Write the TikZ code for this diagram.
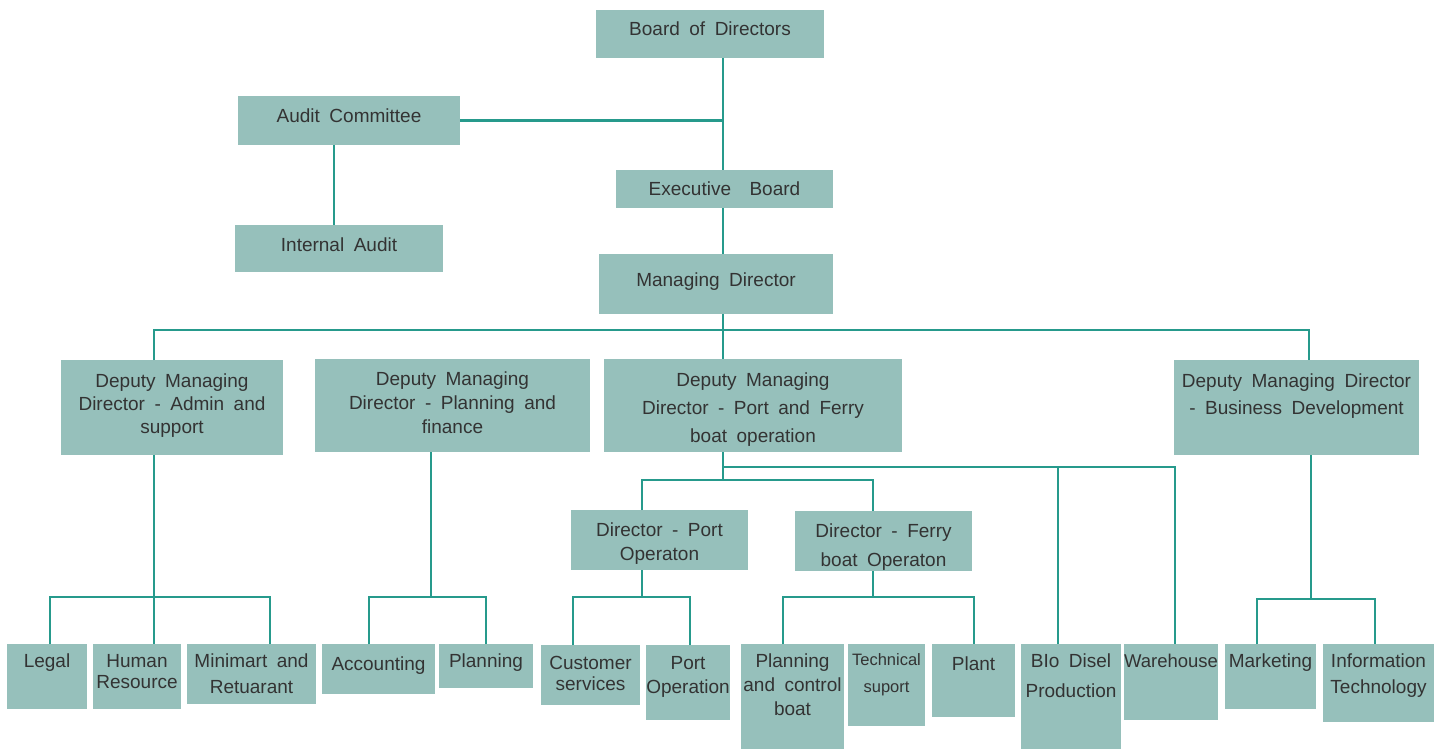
\documentclass[tikz,border=0pt]{standalone}
\usepackage{fontspec}
\setmainfont{Liberation Sans}[WordSpace=1.8]
\definecolor{boxfill}{HTML}{96C0BB}
\definecolor{linecol}{HTML}{269A8C}
\definecolor{textgray}{HTML}{333333}
\tikzset{
  box/.style={fill=boxfill, draw=none, anchor=north west, inner sep=0pt, outer sep=0pt, text=textgray},
  conn/.style={draw=linecol, line width=2.8pt}
}
% name, x, y, w, h, first baseline, line skip, text
\newcommand{\orgbox}[8]{%
  \node[box] (#1) at (#2,#3) {\parbox[c][#5pt][t]{#4pt}{\centering\fontsize{19pt}{#7pt}\selectfont\rule{0pt}{#6pt}#8}};}
\begin{document}
\begin{tikzpicture}[x=1pt,y=-1pt]
\useasboundingbox (0,0) rectangle (1434,749);
% boxes
\orgbox{bod}{596}{10}{228}{48}{26}{24}{Board of Directors}
\orgbox{ac}{238}{96}{222}{49}{26}{24}{Audit Committee}
\orgbox{ia}{235}{225}{208}{47}{26}{24}{Internal Audit}
\orgbox{eb}{616}{170}{217}{38}{25}{24}{Executive\hspace{9pt} Board}
\orgbox{md}{599}{254}{234}{60}{32}{24}{Managing Director}
\orgbox{dadm}{61}{360}{222}{95}{27}{23}{Deputy Managing\\Director - Admin and\\support}
\orgbox{dpf}{315}{359}{275}{93}{26}{24}{Deputy Managing\\Director - Planning and\\finance}
\orgbox{dport}{604}{359}{298}{93}{27}{28}{Deputy Managing\\Director - Port and Ferry\\boat operation}
\orgbox{dbd}{1174}{360}{245}{95}{27}{27}{Deputy Managing Director\\- Business Development}
\orgbox{dirp}{571}{510}{177}{60}{26}{24}{Director - Port\\Operaton}
\orgbox{dirf}{795}{511}{177}{60}{26}{29}{Director - Ferry\\boat Operaton}
\orgbox{legal}{7}{644}{80}{65}{23}{24}{Legal}
\orgbox{hr}{93}{644}{88}{65}{23}{21}{Human\\Resource}
\orgbox{mini}{187}{644}{129}{60}{23}{26}{Minimart and\\Retuarant}
\orgbox{acc}{322}{644}{113}{50}{26}{24}{Accounting}
\orgbox{plan}{439}{644}{94}{44}{23}{24}{Planning}
\orgbox{cust}{541}{645}{99}{60}{24}{21}{Customer\\services}
\orgbox{portop}{646}{645}{84}{75}{24}{24}{Port\\Operation}
\orgbox{pcb}{741}{644}{103}{105}{23}{24}{Planning\\and control\\boat}
\orgbox{tech}{848}{644}{77}{82}{21}{27}{\fontsize{16.5pt}{27pt}\selectfont Technical\\suport}
\orgbox{plant}{932}{644}{83}{73}{26}{24}{Plant}
\orgbox{bio}{1021}{644}{100}{105}{23}{30}{BIo Disel\\Production}
\orgbox{wh}{1124}{644}{94}{76}{23}{24}{\fontsize{18.5pt}{24pt}\selectfont Warehouse}
\orgbox{mkt}{1225}{644}{91}{65}{23}{24}{Marketing}
\orgbox{it}{1323}{644}{111}{78}{23}{26}{Information\\Technology}
% junction coordinates
\coordinate (j1) at (723,121);
\coordinate (acx) at (334,0);
\coordinate (j2) at (723,330);
\coordinate (b1) at (154,330);
\coordinate (b2) at (1309,330);
\coordinate (a0) at (50,597);
\coordinate (a1) at (154,597);
\coordinate (a2) at (270,597);
\coordinate (p0) at (369,597);
\coordinate (p1) at (431,597);
\coordinate (p2) at (486,597);
\coordinate (q1) at (723,467);
\coordinate (q2) at (1058,467);
\coordinate (q3) at (1175,467);
\coordinate (q4) at (723,480);
\coordinate (q5) at (642,480);
\coordinate (q6) at (873,480);
\coordinate (r0) at (573,597);
\coordinate (r1) at (642,597);
\coordinate (r2) at (690,597);
\coordinate (f0) at (783,597);
\coordinate (f1) at (873,597);
\coordinate (f2) at (974,597);
\coordinate (d0) at (1257,599);
\coordinate (d1) at (1311,599);
\coordinate (d2) at (1375,599);
% connectors
\draw[conn] (bod.south -| j1) -- (eb.north -| j1);
\draw[conn] (ac.east) -- (ac.east -| j1);
\draw[conn] (ac.south -| acx) -- (ia.north -| acx);
\draw[conn] (eb.south -| j1) -- (md.north -| j1);
\draw[conn] (md.south -| j2) -- (dport.north -| j2);
\draw[conn] (dadm.north -| b1) -- (b1) -- (b2) -- (dbd.north -| b2);
\draw[conn] (dadm.south -| a1) -- (hr.north -| a1);
\draw[conn] (legal.north -| a0) -- (a0) -- (a2) -- (mini.north -| a2);
\draw[conn] (dpf.south -| p1) -- (p1);
\draw[conn] (acc.north -| p0) -- (p0) -- (p2) -- (plan.north -| p2);
\draw[conn] (dport.south -| q1) -- (q4);
\draw[conn] (q1) -- (q3) -- (wh.north -| q3);
\draw[conn] (q2) -- (bio.north -| q2);
\draw[conn] (dirp.north -| q5) -- (q5) -- (q6) -- (dirf.north -| q6);
\draw[conn] (dirp.south -| r1) -- (r1);
\draw[conn] (cust.north -| r0) -- (r0) -- (r2) -- (portop.north -| r2);
\draw[conn] (dirf.south -| f1) -- (f1);
\draw[conn] (pcb.north -| f0) -- (f0) -- (f2) -- (plant.north -| f2);
\draw[conn] (dbd.south -| d1) -- (d1);
\draw[conn] (mkt.north -| d0) -- (d0) -- (d2) -- (it.north -| d2);
\end{tikzpicture}
\end{document}
